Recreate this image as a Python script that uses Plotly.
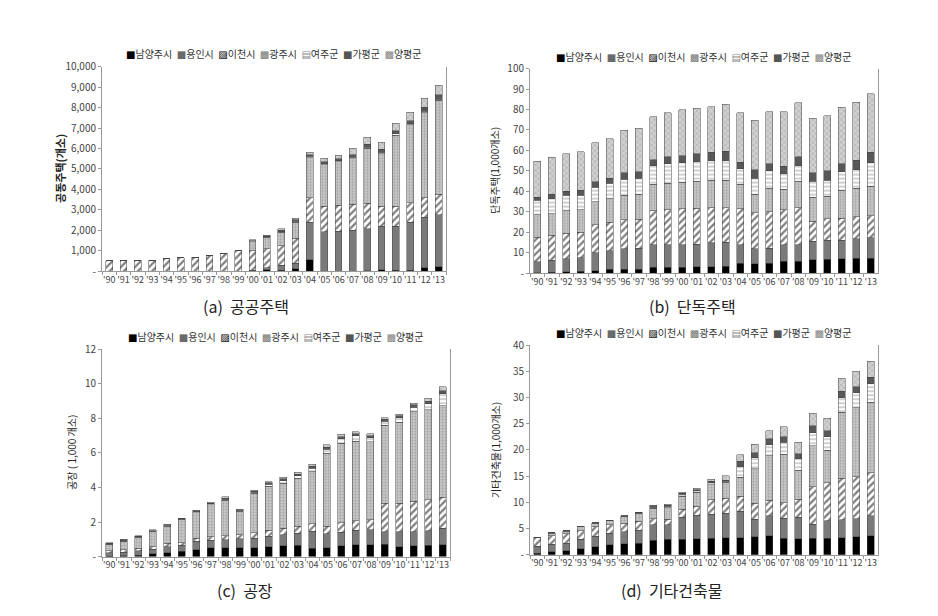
import plotly.graph_objects as go

years = ["'90", "'91", "'92", "'93", "'94", "'95", "'96", "'97", "'98", "'99", "'00", "'01",
         "'02", "'03", "'04", "'05", "'06", "'07", "'08", "'09", "'10", "'11", "'12", "'13"]
regions = ["남양주시", "용인시", "이천시", "광주시", "여주군", "가평군", "양평군"]

# (a) 공공주택, 개소
a_namyangju = [0, 0, 0, 0, 0, 0, 0, 0, 0, 0, 30, 80, 50, 120, 550, 0, 0, 0, 30, 60, 40, 40, 170, 230]
a_yongin = [0, 0, 0, 0, 0, 0, 0, 0, 0, 0, 20, 80, 250, 280, 1850, 1920, 1950, 2000, 2040, 2140, 2160, 2360, 2460, 2530]
a_icheon = [500, 510, 530, 540, 630, 670, 680, 780, 860, 1000, 950, 950, 950, 1200, 1200, 1260, 1280, 1280, 1260, 970, 970, 950, 950, 1000]
a_gwangju = [0, 0, 0, 0, 0, 0, 0, 10, 10, 10, 450, 550, 650, 800, 1950, 2020, 2120, 2220, 2670, 2580, 3480, 3800, 4170, 4590]
a_yeoju = [0, 0, 0, 0, 0, 0, 0, 0, 0, 0, 30, 20, 40, 50, 60, 50, 50, 60, 60, 60, 60, 50, 60, 60]
a_gapyeong = [0, 0, 0, 0, 0, 0, 0, 0, 0, 0, 20, 60, 60, 60, 80, 100, 110, 130, 150, 150, 150, 150, 200, 220]
a_yangpyeong = [0, 0, 0, 0, 0, 0, 0, 0, 0, 0, 50, 10, 80, 90, 130, 180, 170, 330, 330, 350, 370, 430, 440, 450]

# (b) 단독주택, 1,000개소
b_namyangju = [0.3, 0.5, 0.7, 1.0, 1.2, 2.0, 1.8, 1.8, 2.8, 2.9, 2.8, 3.2, 3.2, 3.5, 4.8, 4.5, 4.8, 5.8, 5.8, 6.5, 6.8, 7.0, 7.2, 7.2]
b_yongin = [5.2, 5.8, 6.3, 6.5, 8.8, 9.0, 10.2, 10.5, 11.0, 11.1, 11.0, 11.0, 11.6, 11.7, 9.0, 7.5, 7.5, 8.0, 8.0, 9.0, 9.4, 9.2, 9.6, 10.0]
b_icheon = [12.0, 12.3, 12.5, 12.5, 13.7, 14.0, 14.0, 14.0, 16.7, 17.0, 17.7, 17.6, 17.2, 16.8, 17.7, 17.5, 17.7, 17.2, 18.2, 9.8, 10.3, 10.6, 10.7, 10.8]
b_gwangju = [11.0, 10.4, 11.0, 11.0, 11.3, 11.5, 12.0, 12.2, 13.0, 13.0, 13.0, 13.2, 13.5, 13.5, 12.0, 9.0, 11.5, 10.0, 13.0, 11.7, 11.0, 13.7, 14.0, 14.5]
b_yeoju = [7.2, 7.5, 7.5, 7.0, 7.0, 7.5, 8.0, 8.0, 9.0, 9.5, 9.5, 9.5, 9.5, 9.5, 7.5, 8.0, 8.5, 7.5, 7.5, 8.0, 8.0, 9.0, 9.0, 11.5]
b_gapyeong = [1.3, 2.0, 2.0, 2.5, 2.8, 2.5, 3.0, 3.0, 3.0, 3.5, 3.5, 4.0, 4.0, 4.5, 3.2, 4.0, 3.5, 3.8, 4.3, 4.0, 4.5, 4.0, 4.7, 5.0]
b_yangpyeong = [17.8, 18.2, 18.4, 18.9, 19.0, 19.2, 20.8, 21.3, 21.0, 21.4, 22.5, 22.1, 22.3, 23.0, 24.2, 24.2, 25.5, 26.6, 26.4, 26.7, 27.0, 27.5, 28.4, 28.8]

# (c) 공장, 1,000개소
c_namyangju = [0.02, 0.05, 0.08, 0.18, 0.22, 0.3, 0.4, 0.5, 0.52, 0.52, 0.52, 0.58, 0.62, 0.65, 0.48, 0.52, 0.62, 0.68, 0.7, 0.72, 0.58, 0.62, 0.65, 0.68]
c_yongin = [0.2, 0.2, 0.25, 0.25, 0.35, 0.35, 0.5, 0.45, 0.45, 0.5, 0.55, 0.6, 0.65, 0.7, 1.0, 0.8, 0.8, 0.85, 0.85, 0.72, 0.85, 0.82, 0.85, 0.95]
c_icheon = [0.12, 0.15, 0.15, 0.15, 0.2, 0.15, 0.15, 0.2, 0.25, 0.25, 0.3, 0.35, 0.38, 0.42, 0.42, 0.45, 0.55, 0.55, 0.58, 1.65, 1.65, 1.75, 1.8, 1.8]
c_gwangju = [0.35, 0.5, 0.65, 0.85, 1.0, 1.35, 1.5, 1.85, 2.05, 1.35, 2.3, 2.55, 2.6, 2.75, 3.0, 4.2, 4.6, 4.6, 4.5, 4.5, 4.7, 5.2, 5.2, 5.3]
c_yeoju = [0.02, 0.03, 0.03, 0.04, 0.03, 0.03, 0.05, 0.05, 0.06, 0.05, 0.05, 0.1, 0.15, 0.15, 0.2, 0.25, 0.25, 0.3, 0.25, 0.25, 0.25, 0.25, 0.35, 0.7]
c_gapyeong = [0.05, 0.05, 0.03, 0.03, 0.03, 0.04, 0.04, 0.05, 0.06, 0.04, 0.06, 0.08, 0.1, 0.1, 0.12, 0.12, 0.12, 0.12, 0.12, 0.1, 0.12, 0.13, 0.15, 0.17]
c_yangpyeong = [0.03, 0.02, 0.03, 0.05, 0.05, 0.0, 0.04, 0.05, 0.06, 0.04, 0.05, 0.07, 0.1, 0.11, 0.13, 0.13, 0.13, 0.12, 0.12, 0.08, 0.08, 0.1, 0.15, 0.22]

# (d) 기타건축물, 1,000개소
d_namyangju = [0.3, 0.6, 0.7, 1.1, 1.5, 1.9, 2.1, 2.2, 2.8, 2.9, 2.9, 3.0, 3.1, 3.2, 3.2, 3.4, 3.6, 3.1, 3.0, 3.1, 3.1, 3.2, 3.4, 3.6]
d_yongin = [1.3, 1.4, 1.5, 1.8, 2.0, 2.2, 2.3, 2.5, 2.9, 2.8, 4.2, 4.5, 4.6, 4.7, 5.1, 3.4, 3.8, 3.9, 4.1, 2.7, 3.4, 3.5, 3.5, 3.8]
d_icheon = [1.6, 1.6, 1.8, 1.7, 1.8, 1.6, 1.6, 1.7, 1.2, 1.1, 1.6, 1.7, 2.8, 2.9, 2.9, 3.0, 3.0, 2.9, 3.5, 7.2, 7.2, 7.9, 8.0, 8.2]
d_gwangju = [0.1, 0.5, 0.5, 0.7, 0.7, 0.8, 1.2, 1.4, 2.0, 2.2, 2.5, 2.7, 2.9, 3.0, 3.6, 6.6, 8.5, 9.3, 5.5, 7.8, 6.2, 12.6, 13.2, 13.5]
d_yeoju = [0.0, 0.05, 0.05, 0.05, 0.05, 0.05, 0.1, 0.1, 0.2, 0.2, 0.3, 0.3, 0.3, 0.2, 2.0, 2.1, 2.1, 2.3, 2.2, 2.5, 2.6, 2.8, 2.8, 3.5]
d_gapyeong = [0.0, 0.05, 0.05, 0.05, 0.05, 0.05, 0.1, 0.2, 0.2, 0.2, 0.2, 0.2, 0.3, 0.2, 1.0, 1.0, 1.1, 1.0, 1.0, 1.3, 1.2, 1.2, 1.2, 1.3]
d_yangpyeong = [0.0, 0.0, 0.0, 0.0, 0.0, 0.0, 0.0, 0.0, 0.1, 0.2, 0.2, 0.3, 0.4, 0.9, 1.3, 1.6, 1.6, 1.9, 2.2, 2.4, 2.4, 2.5, 2.9, 3.0]

a_ticks = [0, 1000, 2000, 3000, 4000, 5000, 6000, 7000, 8000, 9000, 10000]
b_ticks = [0, 10, 20, 30, 40, 50, 60, 70, 80, 90, 100]
c_ticks = [0, 2, 4, 6, 8, 10, 12]
d_ticks = [0, 5, 10, 15, 20, 25, 30, 35, 40]

FONT = "Noto Sans CJK KR"
W, H = 938, 616

# one marker style per region, roughly like the Excel fills
styles = [
    dict(color="black"),
    dict(color="#7a7a7a"),
    dict(color="white", pattern=dict(shape="/", fgcolor="black", bgcolor="white", size=5, solidity=0.45)),
    dict(color="#c4c4c4", pattern=dict(shape=".", fgcolor="#7a7a7a", bgcolor="#c8c8c8", size=3, solidity=0.35)),
    dict(color="white", pattern=dict(shape="-", fgcolor="#8a8a8a", bgcolor="white", size=4, solidity=0.4)),
    dict(color="#585858"),
    dict(color="#c8c8c8", pattern=dict(shape="x", fgcolor="#8a8a8a", bgcolor="#d0d0d0", size=4, solidity=0.3)),
]
legend_marks = [("■", "black"), ("■", "#6a6a6a"), ("▨", "black"), ("▩", "#777"),
                ("▤", "#888"), ("■", "#555"), ("▩", "#888")]

panels = [
    dict(series=[a_namyangju, a_yongin, a_icheon, a_gwangju, a_yeoju, a_gapyeong, a_yangpyeong],
         ticks=a_ticks, fmt="{:,}", box=(94, 438, 51, 261), title="공동주택(개소)", title_x=52,
         title_bold=True, legend_y=37, caption="(a)  공공주택", cap=(238, 297)),
    dict(series=[b_namyangju, b_yongin, b_icheon, b_gwangju, b_yeoju, b_gapyeong, b_yangpyeong],
         ticks=b_ticks, fmt="{}", box=(522, 870, 53, 263), title="단독주택(1,000개소)", title_x=487,
         title_bold=False, legend_y=41, caption="(b)  단독주택", cap=(684, 297)),
    dict(series=[c_namyangju, c_yongin, c_icheon, c_gwangju, c_yeoju, c_gapyeong, c_yangpyeong],
         ticks=c_ticks, fmt="{}", box=(94, 442, 341, 554), title="공장 ( 1,000 개소)", title_x=64,
         title_bold=False, legend_y=328, caption="(c)  공장", cap=(237, 588)),
    dict(series=[d_namyangju, d_yongin, d_icheon, d_gwangju, d_yeoju, d_gapyeong, d_yangpyeong],
         ticks=d_ticks, fmt="{}", box=(522, 870, 337, 552), title="기타건축물(1,000개소)", title_x=488,
         title_bold=False, legend_y=324, caption="(d)  기타건축물", cap=(664, 588)),
]

fig = go.Figure()
annotations = []
layout_axes = {}

for i, p in enumerate(panels):
    n = "" if i == 0 else str(i + 1)
    x0, x1, ytop, ybot = p["box"]
    for name, vals, st in zip(regions, p["series"], styles):
        fig.add_trace(go.Bar(
            x=years, y=vals, name=name, xaxis="x" + n, yaxis="y" + n,
            marker=dict(line=dict(color="#444", width=0.5), **st),
            showlegend=False,
        ))
    layout_axes["xaxis" + n] = dict(
        domain=[x0 / W, x1 / W], anchor="y" + n, type="category",
        showline=True, linecolor="#999", linewidth=1, ticks="outside", ticklen=3,
        tickcolor="#999", tickson="boundaries", tickangle=0,
        tickfont=dict(family=FONT, size=9, color="#444"), showgrid=False, fixedrange=True,
    )
    top = p["ticks"][-1]
    layout_axes["yaxis" + n] = dict(
        domain=[1 - ybot / H, 1 - ytop / H], anchor="x" + n, range=[0, top],
        tickvals=p["ticks"], ticktext=["-"] + [p["fmt"].format(t) for t in p["ticks"][1:]],
        showline=True, mirror=True, linecolor="#999", linewidth=1, ticks="outside",
        ticklen=3, tickcolor="#999", showgrid=False, zeroline=False,
        tickfont=dict(family=FONT, size=10, color="#444"),
    )
    # legend row drawn as text above each plot
    leg = "  ".join(
        f"<span style='color:{c};font-family:DejaVu Sans'>{m}</span>{r}"
        for (m, c), r in zip(legend_marks, regions)
    )
    annotations.append(dict(
        text=leg, x=(x0 + x1) / 2 / W, y=1 - p["legend_y"] / H, xref="paper", yref="paper",
        showarrow=False, xanchor="center", yanchor="middle",
        font=dict(family=FONT, size=10, color="#333"),
    ))
    t = f"<b>{p['title']}</b>" if p["title_bold"] else p["title"]
    annotations.append(dict(
        text=t, x=p["title_x"] / W, y=1 - (ytop + ybot) / 2 / H, xref="paper", yref="paper",
        showarrow=False, textangle=-90, xanchor="center", yanchor="middle",
        font=dict(family=FONT, size=11 if p["title_bold"] else 10, color="#222"),
    ))
    cx, cy = p["cap"]
    annotations.append(dict(
        text=p["caption"], x=cx / W, y=1 - cy / H, xref="paper", yref="paper",
        showarrow=False, xanchor="center", yanchor="middle",
        font=dict(family=FONT, size=16, color="#222"),
    ))

fig.update_layout(
    width=W, height=H, margin=dict(l=0, r=0, t=0, b=0),
    barmode="stack", bargap=0.53,
    plot_bgcolor="white", paper_bgcolor="white",
    annotations=annotations, showlegend=False,
    **layout_axes,
)

fig.write_html("out.html")
